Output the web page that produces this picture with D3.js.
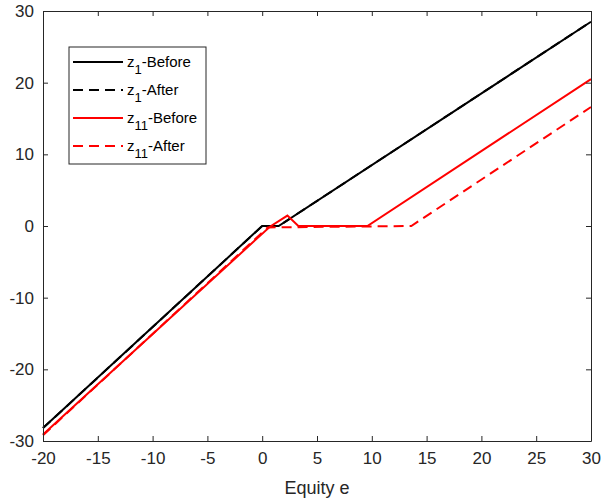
<!DOCTYPE html>
<html>
<head>
<meta charset="utf-8">
<script src="https://cdn.jsdelivr.net/npm/d3@7"></script>
<style>
  body { margin: 0; background: #fff; }
  svg { font-family: "Liberation Sans", Arial, sans-serif; }
</style>
</head>
<body>
<svg width="602" height="501"></svg>
<script>
// data
const z1BeforeE = [-20, 0, 1.5, 30];
const z1BeforeZ = [-28.2, 0, 0, 28.5];
const z1AfterE = [-20, 0, 1.5, 30];
const z1AfterZ = [-28.2, 0, 0, 28.5];
const z11BeforeE = [-20, 0.7, 2.3, 3.3, 9.6, 30];
const z11BeforeZ = [-29.1, -0.1, 1.45, 0, 0, 20.5];
const z11AfterE = [-20, 0.5, 13.6, 30];
const z11AfterZ = [-29.2, -0.2, 0, 16.6];

const xTicks = [-20, -15, -10, -5, 0, 5, 10, 15, 20, 25, 30];
const yTicks = [-30, -20, -10, 0, 10, 20, 30];

const margin = { top: 11, right: 11, bottom: 60, left: 43 };
const W = 602, H = 501;
const innerW = W - margin.left - margin.right;
const innerH = H - margin.top - margin.bottom;
const AXIS = "#262626";

const svg = d3.select("svg");
const g = svg.append("g")
    .attr("transform", "translate(" + margin.left + "," + margin.top + ")");

let xScale = d3.scaleLinear().domain([-20, 30]).range([0, innerW]);
let yScale = d3.scaleLinear().domain([-30, 30]).range([innerH, 0]);

// series
const series = [
    { name: ["z", "1", "-Before"], e: z1BeforeE, z: z1BeforeZ, color: "#000", dash: null },
    { name: ["z", "1", "-After"], e: z1AfterE, z: z1AfterZ, color: "#000", dash: "10,6" },
    { name: ["z", "11", "-Before"], e: z11BeforeE, z: z11BeforeZ, color: "#ff0000", dash: null },
    { name: ["z", "11", "-After"], e: z11AfterE, z: z11AfterZ, color: "#ff0000", dash: "10,6" }
];

const line = d3.line()
    .x(function (d) { return xScale(d[0]); })
    .y(function (d) { return yScale(d[1]); });

series.forEach(function (s) {
    g.append("path")
        .datum(d3.zip(s.e, s.z))
        .attr("fill", "none")
        .attr("stroke", s.color)
        .attr("stroke-width", 2)
        .attr("stroke-dasharray", s.dash)
        .attr("d", line);
});

// plain hyphen minus like the original
const fmt = function (d) { return String(d); };

// axes (ticks inward, mirrored on top and right)
function styleAxis(sel) {
    sel.select(".domain").attr("stroke", AXIS);
    sel.selectAll(".tick line").attr("stroke", AXIS);
    sel.selectAll(".tick text").attr("fill", AXIS).style("font-size", "17px")
        .attr("font-family", "Liberation Sans, Arial, sans-serif");
}

g.append("g")
    .attr("transform", "translate(0," + innerH + ")")
    .call(d3.axisBottom(xScale).tickValues(xTicks).tickFormat(fmt)
        .tickSizeInner(-5).tickSizeOuter(0).tickPadding(11))
    .call(styleAxis);

g.append("g")
    .call(d3.axisLeft(yScale).tickValues(yTicks).tickFormat(fmt)
        .tickSizeInner(-5).tickSizeOuter(0).tickPadding(9))
    .call(styleAxis);

g.append("g")
    .call(d3.axisTop(xScale).tickValues(xTicks).tickSizeInner(-5).tickSizeOuter(0).tickFormat(""))
    .call(styleAxis);

g.append("g")
    .attr("transform", "translate(" + innerW + ",0)")
    .call(d3.axisRight(yScale).tickValues(yTicks).tickSizeInner(-5).tickSizeOuter(0).tickFormat(""))
    .call(styleAxis);

// x-axis label
svg.append("text")
    .attr("x", margin.left + innerW / 2)
    .attr("y", 494)
    .attr("text-anchor", "middle")
    .attr("fill", AXIS)
    .style("font-size", "18px")
    .text("Equity e");

// legend
const legend = svg.append("g").attr("transform", "translate(69,47)");
legend.append("rect")
    .attr("width", 137).attr("height", 117)
    .attr("fill", "#fff").attr("stroke", AXIS).attr("stroke-width", 1);

series.forEach(function (s, i) {
    const yy = 15 + i * 28;
    legend.append("line")
        .attr("x1", 4).attr("x2", 54)
        .attr("y1", yy).attr("y2", yy)
        .attr("stroke", s.color).attr("stroke-width", 2)
        .attr("stroke-dasharray", s.dash);
    const t = legend.append("text")
        .attr("x", 58).attr("y", yy + 5)
        .attr("fill", "#000")
        .style("font-size", "15px");
    t.append("tspan").text(s.name[0]);
    t.append("tspan").attr("dy", 7).style("font-size", "13px").text(s.name[1]);
    t.append("tspan").attr("dy", -7).text(s.name[2]);
});
</script>
</body>
</html>
